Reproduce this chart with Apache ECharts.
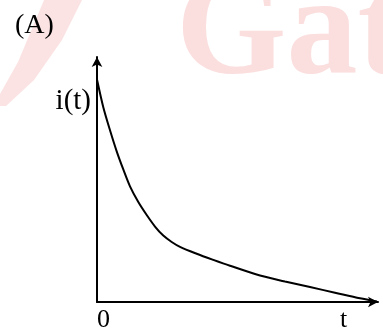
<!DOCTYPE html>
<html>
<head>
<meta charset="utf-8">
<script src="https://cdn.jsdelivr.net/npm/echarts@6/dist/echarts.min.js"></script>
<style>
  html, body { margin: 0; padding: 0; background: #fff; }
  #chart { width: 383px; height: 333px; }
</style>
</head>
<body>
<div id="chart"></div>
<script>
// decay curve (x: 0..100 along t, y: 0..100 along i)
const tValues = [0, 2.24, 4.63, 7.01, 9.36, 11.74, 14.70, 17.69, 20.64, 23.59, 26.58, 29.54, 35.48, 41.39, 47.33, 58.01, 66.90, 75.80, 84.70, 93.59, 99.64];
const iValues = [90.8, 79.5, 70.1, 61.5, 54.1, 47.2, 40.8, 35.5, 30.8, 27.1, 24.5, 22.5, 19.7, 17.2, 14.8, 10.8, 8.4, 6.1, 3.8, 1.5, 0.2];
const xTickValues = [0, 86.5];
const xTickLabels = ['0', 't'];
const yTickValues = [82];
const yTickLabels = ['i(t)'];

const serif = 'Liberation Serif';
const chart = echarts.init(document.getElementById('chart'));

const option = {
  animation: false,
  backgroundColor: '#fff',
  title: {
    text: '(A)',
    left: 10,
    top: 7,
    textStyle: { fontFamily: serif, fontSize: 28, fontWeight: 'normal', color: '#000' }
  },
  grid: { left: 97, right: 5, top: 57, bottom: 26 },
  // faint logo watermark behind the chart
  graphic: [
    {
      type: 'polygon',
      z: -10,
      shape: { points: [[44, 0], [82, 0], [62, 40], [34, 80], [6, 106], [0, 106], [0, 94], [18, 62]] },
      style: { fill: '#fce3e3' }
    },
    {
      type: 'text',
      z: -10,
      x: 176,
      y: 107,
      style: {
        text: 'Gat',
        font: 'bold 142px "Liberation Serif"',
        fill: '#fbdede',
        textVerticalAlign: 'bottom'
      }
    }
  ],
  xAxis: {
    type: 'value',
    min: 0,
    max: 100,
    splitLine: { show: false },
    axisTick: { show: false },
    axisLine: {
      show: true,
      symbol: ['none', 'arrow'],
      symbolSize: [8, 10],
      lineStyle: { color: '#000', width: 2 }
    },
    axisLabel: {
      customValues: xTickValues,
      formatter: v => xTickLabels[xTickValues.indexOf(v)],
      align: 'left',
      margin: 5,
      fontFamily: serif,
      fontSize: 26,
      color: '#000'
    }
  },
  yAxis: {
    type: 'value',
    min: 0,
    max: 100,
    splitLine: { show: false },
    axisTick: { show: false },
    axisLine: {
      show: true,
      symbol: ['none', 'arrow'],
      symbolSize: [8, 10],
      lineStyle: { color: '#000', width: 2 }
    },
    axisLabel: {
      customValues: yTickValues,
      formatter: v => yTickLabels[yTickValues.indexOf(v)],
      margin: 6,
      fontFamily: serif,
      fontSize: 29,
      color: '#000'
    }
  },
  series: [
    {
      type: 'line',
      data: tValues.map((t, k) => [t, iValues[k]]),
      smooth: 0.3,
      symbol: 'none',
      lineStyle: { color: '#000', width: 2 }
    }
  ]
};

chart.setOption(option);
</script>
</body>
</html>
